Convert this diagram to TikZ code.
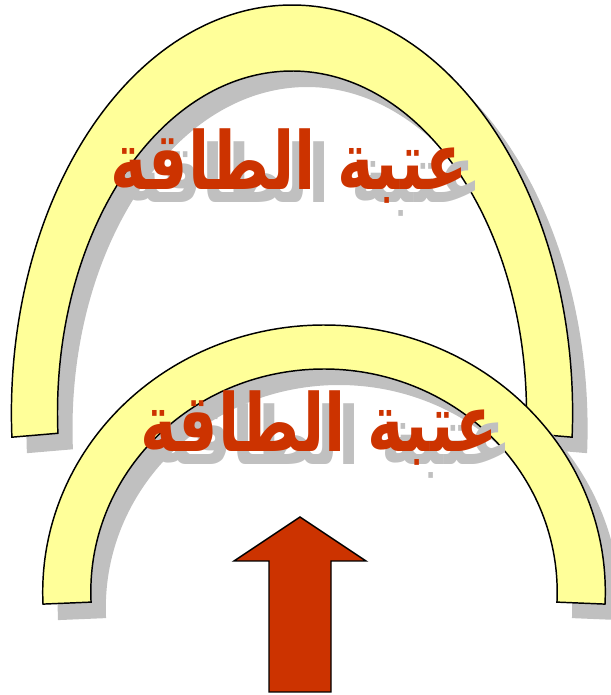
\documentclass[tikz,border=0pt]{standalone}
\usepackage{fontspec}
\usetikzlibrary{calc}
\TeXXeTstate=1
\newfontfamily\arabicfont[Script=Arabic]{DejaVu Sans}
\definecolor{archyellow}{HTML}{FFFF99}
\definecolor{shadowgray}{HTML}{C0C0C0}
\definecolor{labelred}{HTML}{CC3300}
\newcommand\arabiclabel{\scalebox{0.965}[1.25]{\beginR عتبة الطاقة\endR}}
\tikzset{
  archbody/.style={fill=archyellow, draw=black, line width=1.1pt, line join=miter},
  archshadow/.style={fill=shadowgray},
  arrowbody/.style={fill=labelred, draw=black, line width=1.1pt, line join=miter},
  arabictext/.style={font=\arabicfont\bfseries\fontsize{48}{56}\selectfont, text=labelred, inner sep=0pt, anchor=base},
  arabicshadow/.style={font=\arabicfont\bfseries\fontsize{48}{56}\selectfont, text=shadowgray, inner sep=0pt, anchor=base}
}
\begin{document}
\begin{tikzpicture}[x=0.75pt,y=0.75pt]
\useasboundingbox (0,0) rectangle (610,695);
% ---- top arch
\begin{scope}[shift={(15,-16)}]
\fill[archshadow] ($(292,282)+(-3.4:280.6 and 408)$) arc[start angle=-3.4,end angle=183.4,x radius=280.6,y radius=408]
  -- ($(292,282)+(183.4:234.5 and 342)$) arc[start angle=183.4,end angle=-3.4,x radius=234.5,y radius=342] -- cycle;
\end{scope}
\filldraw[archbody] ($(292,282)+(-3.4:280.6 and 408)$) arc[start angle=-3.4,end angle=183.4,x radius=280.6,y radius=408]
  -- ($(292,282)+(183.4:234.5 and 342)$) arc[start angle=183.4,end angle=-3.4,x radius=234.5,y radius=342] -- cycle;
\node[arabicshadow] (t1s) at (303,492) {\arabiclabel};
\node[arabictext] (t1) at (289,505) {\arabiclabel};
% ---- bottom arch
\begin{scope}[shift={(15,-16)}]
\fill[archshadow] ($(324,103)+(-2.6:281.3 and 267)$) arc[start angle=-2.6,end angle=182.6,x radius=281.3,y radius=267]
  -- ($(324,103)+(182.6:233.2 and 223)$) arc[start angle=182.6,end angle=-2.6,x radius=233.2,y radius=223] -- cycle;
\end{scope}
\filldraw[archbody] ($(324,103)+(-2.6:281.3 and 267)$) arc[start angle=-2.6,end angle=182.6,x radius=281.3,y radius=267]
  -- ($(324,103)+(182.6:233.2 and 223)$) arc[start angle=182.6,end angle=-2.6,x radius=233.2,y radius=223] -- cycle;
\node[arabicshadow] (t2s) at (333,230) {\arabiclabel};
\node[arabictext] (t2) at (319,243) {\arabiclabel};
% ---- arrow
\filldraw[arrowbody] (300,178) -- (366,134) -- (331,134) -- (331,3) -- (269,3) -- (269,134) -- (234,134) -- cycle;
\end{tikzpicture}
\end{document}
